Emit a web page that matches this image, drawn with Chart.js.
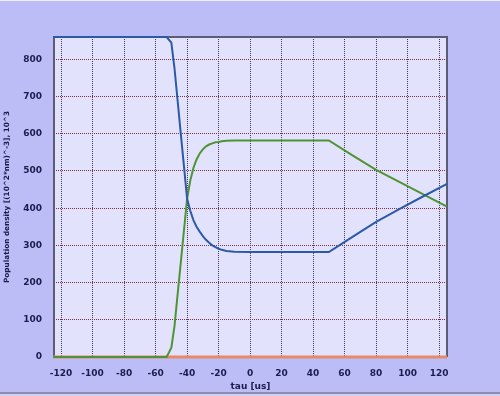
<!DOCTYPE html>
<html>
<head>
<meta charset="utf-8">
<script src="https://cdn.jsdelivr.net/npm/chart.js@4/dist/chart.umd.min.js"></script>
<style>
  html, body { margin: 0; padding: 0; background: #bcbcf6; }
  #wrap { width: 500px; height: 396px; position: relative; }
</style>
</head>
<body>
<div id="wrap"><canvas id="mycanvas" width="500" height="396"></canvas></div>
<script>
// time axis, us
var tau = [-125, -55, -53, -50, -48, -46, -44, -42, -40, -38, -36, -34, -32, -30, -28, -26,
           -24, -22, -20, -18, -15, -10, 0, 50, 65, 80, 95, 110, 125];

// population densities
var blueLine = [860, 860, 860, 845, 776, 688, 600, 513, 425, 393, 368, 350, 337, 325, 315, 307,
                300, 295, 291, 288, 285, 283, 282, 282, 323, 363, 398, 432, 465];
var greenLine = [0, 0, 0, 25, 83, 169, 254, 340, 425, 474, 508, 531, 547, 558, 566, 571,
                 574, 577, 578, 580, 581, 582, 582, 582, 542, 503, 470, 437, 404];
var orangeLine = [0, 0, 0, 0, 0, 0, 0, 0, 0, 0, 0, 0, 0, 0, 0, 0,
                  0, 0, 0, 0, 0, 0, 0, 0, 0, 0, 0, 0, 0];

var xTicks = [-120, -100, -80, -60, -40, -20, 0, 20, 40, 60, 80, 100, 120];
var yTicks = [0, 100, 200, 300, 400, 500, 600, 700, 800];

function pts(vals) {
	var out = [];
	for (var i in tau) {
		out.push({ x: tau[i], y: vals[i] });
	}
	return out;
}

var frame = {
	id: 'frame',
	beforeDraw: function(chart) {
		var c = chart.ctx, a = chart.chartArea;
		c.save();
		c.fillStyle = '#bcbcf6';
		c.fillRect(0, 0, chart.width, chart.height);
		c.fillStyle = '#eeeeff';
		c.fillRect(0, 0, chart.width, 1);
		c.fillStyle = '#8c8cae';
		c.fillRect(0, 392, chart.width, 2);
		c.fillStyle = '#d0d0f4';
		c.fillRect(0, 394, chart.width, 2);
		c.fillStyle = '#e2e2fc';
		c.fillRect(a.left, a.top, a.right - a.left, a.bottom - a.top);
		c.restore();
	},
	beforeDatasetsDraw: function(chart) {
		var c = chart.ctx, a = chart.chartArea;
		c.save();
		c.strokeStyle = '#5c5c74';
		c.lineWidth = 2;
		c.beginPath();
		c.moveTo(a.left, a.bottom);
		c.lineTo(a.left, a.top);
		c.lineTo(a.right, a.top);
		c.lineTo(a.right, a.bottom);
		c.stroke();
		c.restore();
	}
};

var tickFont = { family: 'DejaVu Sans', size: 9, weight: 'bold' };

var ctx = document.getElementById('mycanvas');
var chart = new Chart(ctx, {
	type: 'line',
	data: {
		datasets: [
			{ data: pts(blueLine), borderColor: '#2b5aa6', borderWidth: 2, pointRadius: 0, tension: 0, clip: 3 },
			{ data: pts(greenLine), borderColor: '#4e9434', borderWidth: 2, pointRadius: 0, tension: 0, clip: 3 },
			{ data: pts(orangeLine), borderColor: '#e68a68', borderWidth: 3, pointRadius: 0, tension: 0, clip: 3 }
		]
	},
	options: {
		responsive: false,
		animation: false,
		layout: { padding: { left: 0, top: 37, right: 53, bottom: 0 } },
		plugins: { legend: { display: false }, tooltip: { enabled: false } },
		scales: {
			x: {
				type: 'linear',
				min: -124.5,
				max: 125,
				afterBuildTicks: function(s) { s.ticks = xTicks.map(function(v) { return { value: v }; }); },
				afterFit: function(s) { s.height = 39; },
				grid: { color: '#4a3a4c', drawTicks: false },
				border: { display: false, dash: [1, 1] },
				ticks: { color: '#1c1c4c', font: tickFont, padding: 11, maxRotation: 0, autoSkip: false },
				title: { display: true, text: 'tau [us]', color: '#1c1c4c', font: tickFont, padding: { top: 0, bottom: 4 } }
			},
			y: {
				type: 'linear',
				min: 0,
				max: 860,
				afterBuildTicks: function(s) { s.ticks = yTicks.map(function(v) { return { value: v }; }); },
				afterFit: function(s) { s.width = 54; },
				grid: { color: '#82303c', drawTicks: false },
				border: { display: false, dash: [1, 1] },
				ticks: { color: '#1c1c4c', font: tickFont, padding: 12, autoSkip: false },
				title: { display: true, text: 'Population density [(10^2*nm)^-3], 10^3', color: '#1c1c4c',
					font: { family: 'DejaVu Sans', size: 7.3, weight: 'bold' }, padding: { top: 3, bottom: 0 } }
			}
		}
	},
	plugins: [frame]
});
</script>
</body>
</html>
